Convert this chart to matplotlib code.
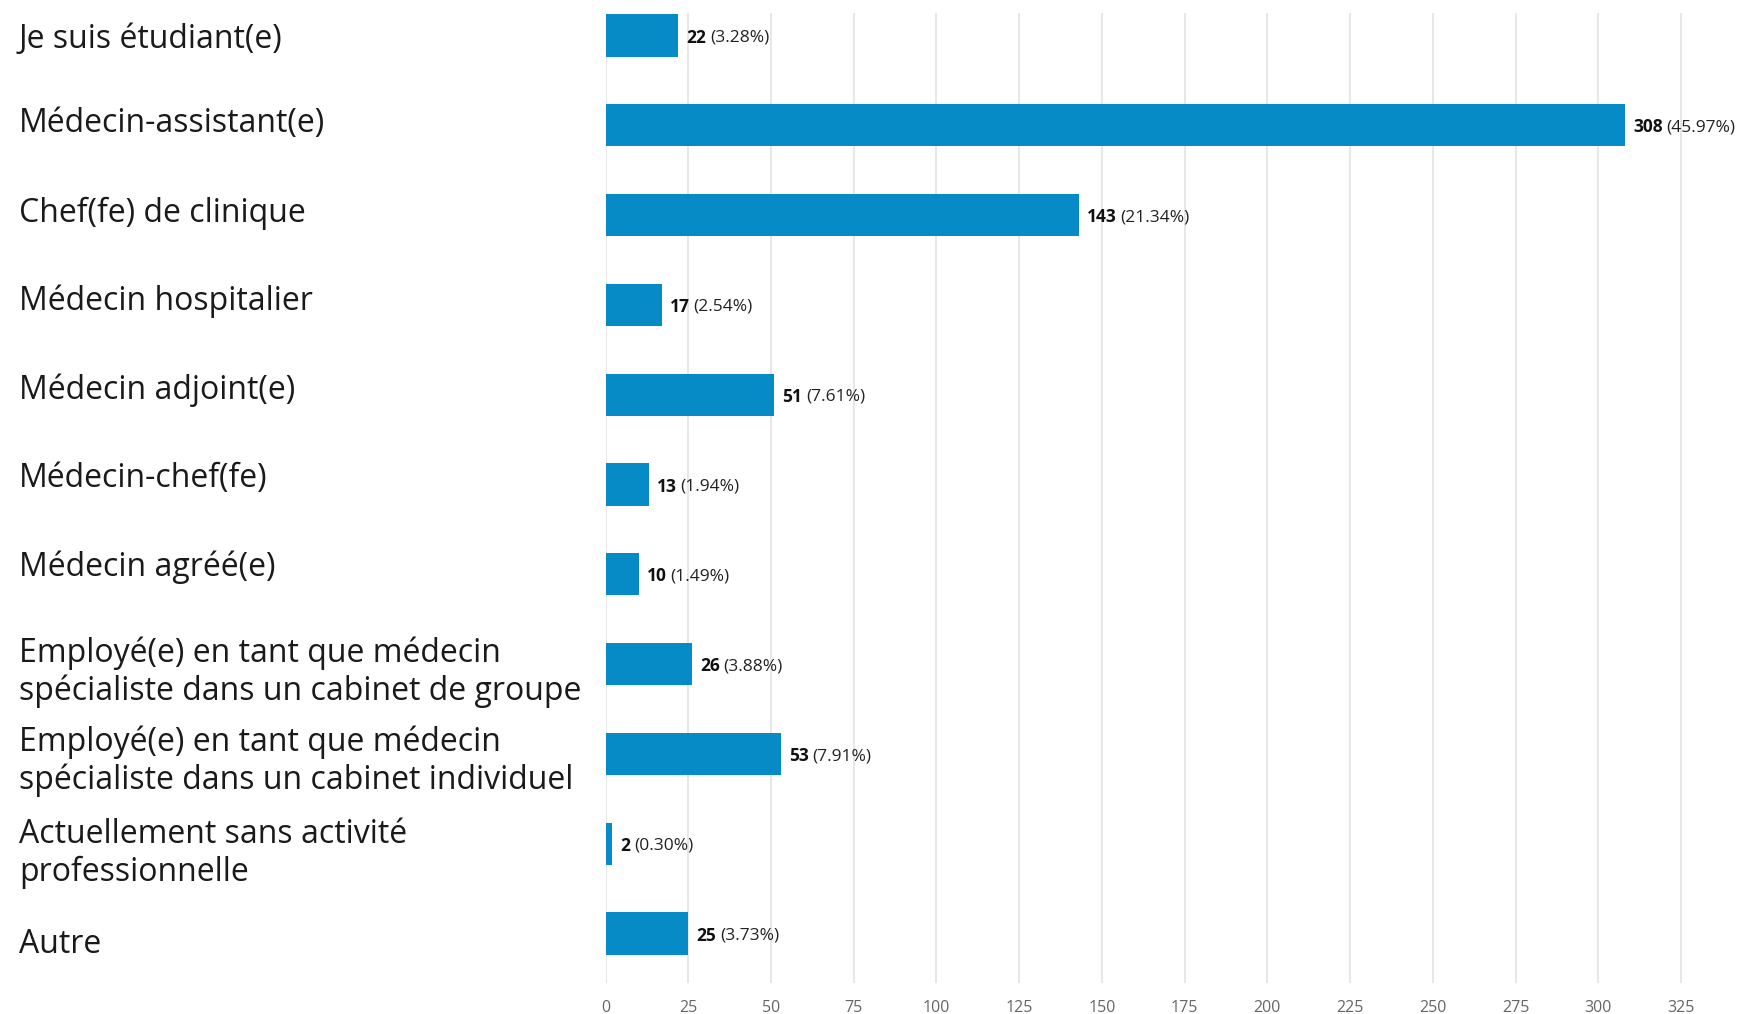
import matplotlib.pyplot as plt
from matplotlib.transforms import ScaledTranslation, blended_transform_factory

# Survey answers: professional status
categories = [
    "Je suis étudiant(e)",
    "Médecin-assistant(e)",
    "Chef(fe) de clinique",
    "Médecin hospitalier",
    "Médecin adjoint(e)",
    "Médecin-chef(fe)",
    "Médecin agréé(e)",
    "Employé(e) en tant que médecin\nspécialiste dans un cabinet de groupe",
    "Employé(e) en tant que médecin\nspécialiste dans un cabinet individuel",
    "Actuellement sans activité\nprofessionnelle",
    "Autre",
]
counts = [22, 308, 143, 17, 51, 13, 10, 26, 53, 2, 25]
percents = ["3.28%", "45.97%", "21.34%", "2.54%", "7.61%", "1.94%",
            "1.49%", "3.88%", "7.91%", "0.30%", "3.73%"]
xticks = list(range(0, 326, 25))

plt.rcParams['font.family'] = ['Open Sans', 'DejaVu Sans']

fig = plt.figure(figsize=(17.42, 10.14), dpi=100)
ax = fig.add_axes([605.5 / 1742, 31 / 1014, 1092 / 1742, 970 / 1014])

bar_color = '#078bc7'
pos = list(range(len(categories)))
ax.barh(pos, counts, height=0.47, color=bar_color, zorder=2)

# value labels: bold count followed by the share in brackets
for i, (c, p) in enumerate(zip(counts, percents)):
    t = ax.annotate(str(c), xy=(c, i), xytext=(6, -1.5), textcoords='offset points',
                    va='center', ha='left', fontsize=12.5, fontweight='bold', color='#111111')
    ax.annotate("(" + p + ")", xy=(1, 0.5), xycoords=t, xytext=(2.5, 0),
                textcoords='offset points', va='center', ha='left',
                fontsize=12.5, color='#222222')

# category labels in a left column, drifting a little from the bar centres
label_shift_px = [-4, 2, 2, 4, 4, 6, 7, -8, -7, -10, -11]
label_tr = blended_transform_factory(fig.transFigure, ax.transData)
for i, (name, dy) in enumerate(zip(categories, label_shift_px)):
    tr = label_tr + ScaledTranslation(0, dy / 100, fig.dpi_scale_trans)
    ax.text(19 / 1742, i, name, transform=tr, ha='left', va='center',
            fontsize=23, color='#1a1a1a', linespacing=1.18)

ax.set_xlim(0, 330)
ax.set_ylim(10.55, -0.25)
ax.set_xticks(xticks)
ax.set_yticks([])

ax.tick_params(axis='x', length=0, pad=12.5, labelsize=11.5, labelcolor='#666666')
ax.grid(axis='x', color='#e3e3e3', linewidth=1.2, zorder=0)
for s in ax.spines.values():
    s.set_visible(False)

fig.savefig('out.png', dpi=100)
